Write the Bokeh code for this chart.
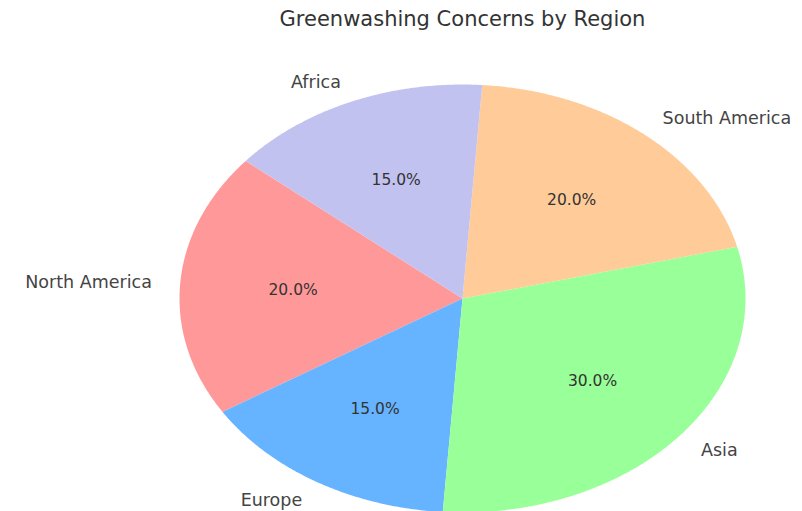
import math
from bokeh.plotting import figure
from bokeh.models import Range1d
from bokeh.embed import file_html
from bokeh.resources import INLINE
from bokeh.core.properties import value

regions = ["North America", "Europe", "Asia", "South America", "Africa"]
shares = [20, 15, 30, 20, 15]
colors = ["#ff9999", "#66b3ff", "#99ff99", "#ffcc99", "#c2c2f0"]
title_text = "Greenwashing Concerns by Region"
start_angle = 140.0

W, H = 802, 511
cx, cy, rx, ry = 462.0, 298.0, 283.0, 214.0

p = figure(width=W, height=H, output_backend="svg", toolbar_location=None,
           x_range=Range1d((0 - cx) / rx, (W - cx) / rx),
           y_range=Range1d((cy - H) / ry, (cy - 0) / ry),
           min_border=0, outline_line_color=None)
p.axis.visible = False
p.grid.visible = False
p.background_fill_color = "white"
p.border_fill_color = "white"

total = float(sum(shares))
xs, ys = [], []
lab_x, lab_y, lab_align = [], [], []
pct_x, pct_y, pct_txt = [], [], []
a0 = start_angle
for s in shares:
    a1 = a0 + 360.0 * s / total
    n = max(int((a1 - a0) * 2), 4)
    px = [0.0]
    py = [0.0]
    for i in range(n + 1):
        t = math.radians(a0 + (a1 - a0) * i / n)
        px.append(math.cos(t))
        py.append(math.sin(t))
    xs.append(px)
    ys.append(py)
    m = math.radians((a0 + a1) / 2)
    lab_x.append(1.1 * math.cos(m))
    lab_y.append(1.1 * math.sin(m))
    lab_align.append("left" if math.cos(m) >= 0 else "right")
    pct_x.append(0.6 * math.cos(m))
    pct_y.append(0.6 * math.sin(m))
    pct_txt.append(f"{100.0 * s / total:.1f}%")
    a0 = a1

p.patches(xs=xs, ys=ys, fill_color=colors, line_color=None)

font = value("DejaVu Sans")
p.text(x=lab_x, y=lab_y, text=regions, text_align=lab_align, text_baseline="middle",
       text_font=font, text_font_size="17.5px", text_color="#444444")
p.text(x=pct_x, y=pct_y, text=pct_txt, text_align="center", text_baseline="middle",
       text_font=font, text_font_size="15.5px", text_color="#333333")
p.text(x=[0.0], y=[(cy - 18) / ry], text=[title_text], text_align="center",
       text_baseline="middle", text_font=font, text_font_size="21px", text_color="#333333")

open("out.html", "w").write(file_html(p, INLINE))
